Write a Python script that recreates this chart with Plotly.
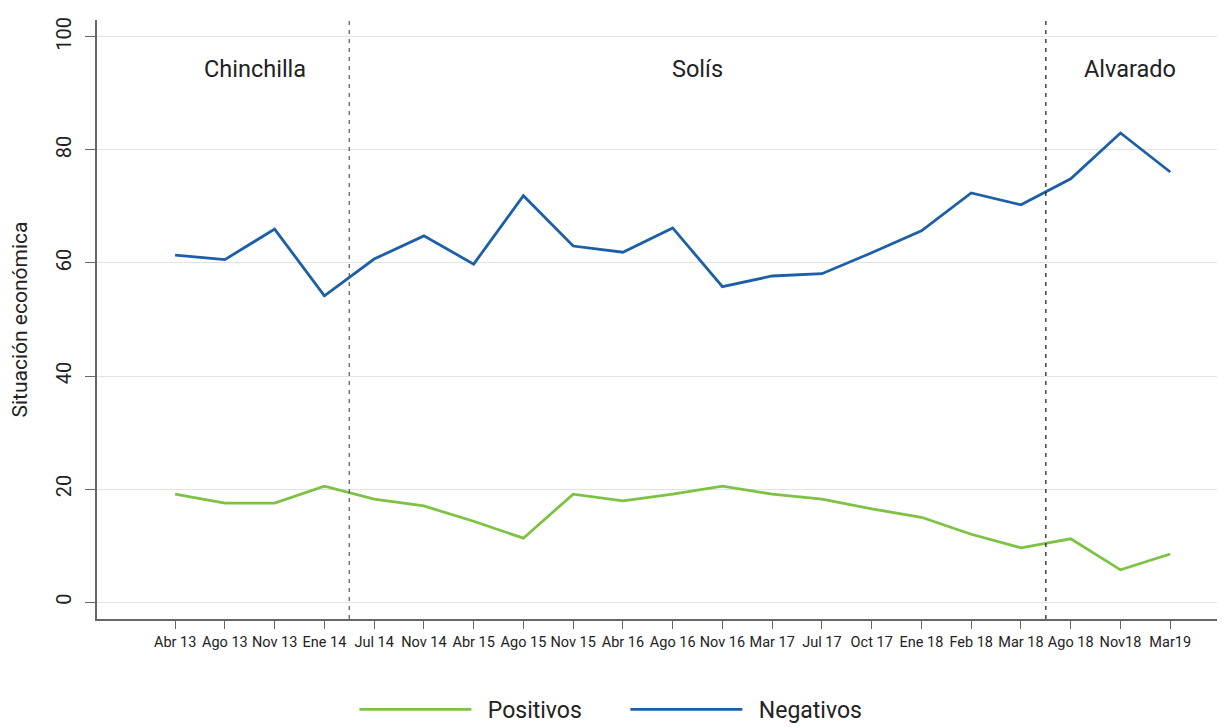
import plotly.graph_objects as go

categorias = ["Abr 13", "Ago 13", "Nov 13", "Ene 14", "Jul 14", "Nov 14", "Abr 15", "Ago 15",
              "Nov 15", "Abr 16", "Ago 16", "Nov 16", "Mar 17", "Jul 17", "Oct 17", "Ene 18",
              "Feb 18", "Mar 18", "Ago 18", "Nov18", "Mar19"]
positivos = [19.1, 17.5, 17.5, 20.5, 18.2, 17.0, 14.3, 11.3, 19.1, 17.9, 19.1, 20.5,
             19.1, 18.2, 16.5, 15.0, 12.0, 9.6, 11.2, 5.7, 8.5]
negativos = [61.4, 60.6, 66.0, 54.2, 60.7, 64.8, 59.8, 71.9, 63.0, 61.9, 66.2, 55.8,
             57.7, 58.1, 61.8, 65.7, 72.4, 70.3, 74.9, 83.0, 76.1]
periodos = ["Chinchilla", "Solís", "Alvarado"]
periodo_centro = [1.6, 10.5, 19.2]
cortes = [3.5, 17.5]
yticks = [0, 20, 40, 60, 80, 100]

x = list(range(len(categorias)))
font = "Roboto"

fig = go.Figure()
fig.add_trace(go.Scatter(x=x, y=positivos, mode="lines", name="\u00a0\u00a0Positivos",
                         line=dict(color="#7DC242", width=2.8)))
fig.add_trace(go.Scatter(x=x, y=negativos, mode="lines", name="\u00a0\u00a0Negativos",
                         line=dict(color="#1B5FA8", width=2.8)))

corte_colores = ["#555555", "#111111"]
for c, col in zip(cortes, corte_colores):
    fig.add_shape(type="line", xref="x", yref="paper", x0=c, x1=c, y0=0, y1=1,
                  line=dict(color=col, width=1.2, dash="4px,5px"))

for p, cx in zip(periodos, periodo_centro):
    fig.add_annotation(x=cx, y=94.3, xref="x", yref="y", text=p, showarrow=False,
                       font=dict(size=23.5, color="#222222", family=font))

fig.update_layout(
    width=1217, height=719,
    margin=dict(l=89, r=5, t=12, b=108, autoexpand=False),
    plot_bgcolor="white", paper_bgcolor="white",
    font=dict(family=font, color="#222222"),
    showlegend=True,
    legend=dict(orientation="h", x=0.4705, xanchor="center", y=-0.115, yanchor="top",
                font=dict(size=23, color="#222222"), itemwidth=112,
                entrywidth=144, traceorder="normal"),
    xaxis=dict(range=[-1.57, 21.0], tickmode="array", tickvals=x, ticktext=categorias,
               tickangle=0, showgrid=False, zeroline=False, showline=True,
               linecolor="#666666", linewidth=1.5, ticks="outside", ticklen=8,
               tickcolor="#666666", tickfont=dict(size=14.5, color="#222222"),
               ticklabelstandoff=1, automargin=False),
    yaxis=dict(range=[-3, 103], tickmode="array", tickvals=yticks, tickangle=-90,
               showgrid=True, gridcolor="#e3e3e3", gridwidth=1, zeroline=False,
               showline=True, linecolor="#666666", linewidth=1.5, ticks="outside",
               ticklen=10, tickcolor="#666666", tickfont=dict(size=20, color="#222222"),
               ticklabelstandoff=6, automargin=False,
               title=dict(text="Situación económica", font=dict(size=21, color="#222222"),
                          standoff=23)),
)

fig.write_html("out.html")
